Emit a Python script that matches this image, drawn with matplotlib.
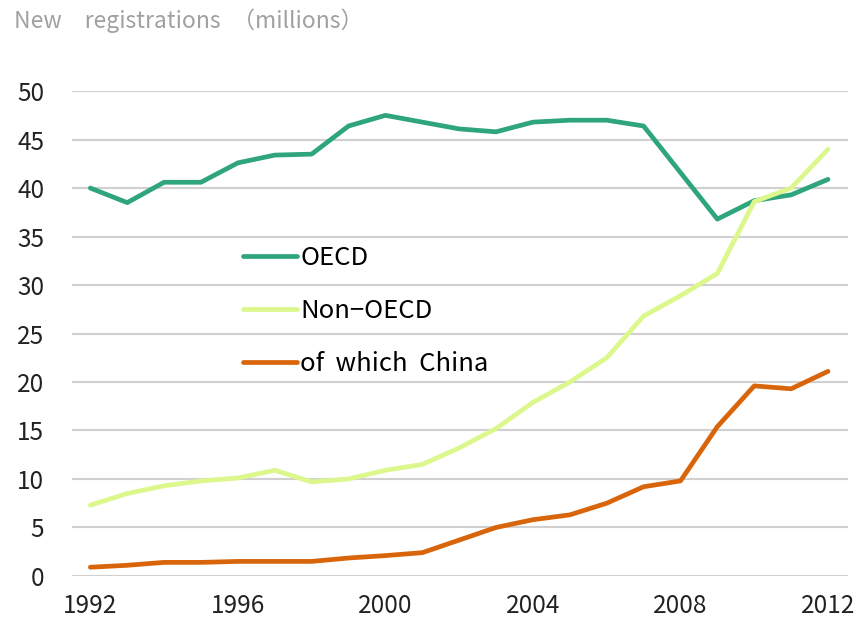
# New vehicle registrations, OECD vs non-OECD, 1992-2012
import matplotlib.pyplot as plt

plt.rcParams['font.family'] = ['Noto Sans CJK JP', 'DejaVu Sans']

years = list(range(1992, 2013))
oecd = [40.0, 38.5, 40.6, 40.6, 42.6, 43.4, 43.5, 46.4, 47.5, 46.8, 46.1,
        45.8, 46.8, 47.0, 47.0, 46.4, 41.6, 36.8, 38.7, 39.3, 40.9]
non_oecd = [7.3, 8.5, 9.3, 9.8, 10.1, 10.9, 9.7, 10.0, 10.9, 11.5, 13.2,
            15.2, 17.9, 20.0, 22.5, 26.8, 28.9, 31.2, 38.6, 40.0, 44.0]
china = [0.9, 1.1, 1.4, 1.4, 1.5, 1.5, 1.5, 1.85, 2.1, 2.4, 3.7,
         5.0, 5.8, 6.3, 7.5, 9.2, 9.8, 15.4, 19.6, 19.3, 21.1]
x_ticks = [1992, 1996, 2000, 2004, 2008, 2012]

fig = plt.figure(figsize=(8.56, 6.24), dpi=100)
ax = fig.add_axes([0.084, 0.077, 0.907, 0.777])

ax.plot(years, oecd, color='#2ea57a', lw=3.4, label='OECD', solid_capstyle='round')
ax.plot(years, non_oecd, color='#dcf78c', lw=3.4, label='Non\u2212OECD', solid_capstyle='round')
ax.plot(years, china, color='#d9650a', lw=3.4, label='of  which  China', solid_capstyle='round')

ax.set_xlim(1991.5, 2012.55)
ax.set_ylim(0, 50)
ax.set_yticks(range(0, 51, 5))
ax.set_xticks(x_ticks)
ax.grid(axis='y', color='#d0d0d0', lw=1.5)
ax.set_axisbelow(True)
for s in ax.spines.values():
    s.set_visible(False)
ax.tick_params(length=0, labelsize=17.5, colors='#222222')
ax.tick_params(axis='y', pad=20)
ax.tick_params(axis='x', pad=12)

ax.legend(loc='upper left', bbox_to_anchor=(0.19, 0.73), frameon=False,
          fontsize=18.5, handlelength=2.1, handletextpad=0.15, labelspacing=1.05)

fig.text(0.016, 0.967, 'New\u3000registrations\u2002（millions）', fontsize=16.5,
         color='#a0a0a0', va='center', ha='left')

fig.savefig('out.png', dpi=100)
